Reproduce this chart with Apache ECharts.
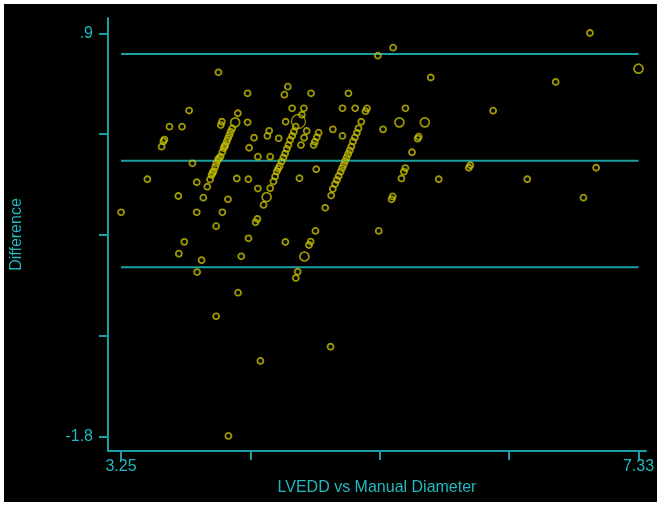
<!DOCTYPE html>
<html><head><meta charset="utf-8">
<script src="https://cdn.jsdelivr.net/npm/echarts@6/dist/echarts.min.js"></script>
<style>
html,body{margin:0;padding:0;background:#fff;width:661px;height:505px;overflow:hidden;}
#c{position:absolute;left:4px;top:4px;width:653px;height:498px;background:#000;}
</style></head><body><div id="c"></div>
<script>
// Mean diameter (x) and difference (y) for each case
const meanDiameter = [3.250,3.458,3.570,3.584,3.592,3.632,3.731,3.787,3.813,3.847,3.702,3.899,3.847,3.749,3.706,3.885,3.850,3.930,4.000,4.049,4.093,4.000,4.097,4.173,4.198,4.255,4.349,4.018,
4.045,4.037,4.114,4.105,4.094,4.084,4.072,4.059,4.049,4.035,4.014,4.001,3.993,3.980,3.964,3.952,4.126,4.067,4.023,3.972,
4.171,4.163,4.254,4.248,4.248,4.299,4.260,4.329,4.329,4.426,4.374,4.325,4.311,4.426,4.404,4.418,4.493,4.565,4.538,4.599,4.548,4.692,4.676,
4.627,4.613,4.599,4.583,4.570,4.557,4.544,4.531,4.516,4.501,4.489,4.478,4.465,4.452,
4.714,4.694,4.669,4.748,4.808,4.794,4.778,4.769,4.920,4.996,5.043,4.996,5.096,5.189,5.177,5.144,
5.122,5.110,5.094,5.079,5.066,5.053,5.041,5.029,5.017,5.006,4.994,4.982,4.966,4.952,4.937,4.920,4.907,
4.789,4.657,4.860,4.783,4.745,4.732,4.643,4.628,4.546,4.902,5.275,5.395,5.282,5.316,5.492,5.597,5.589,5.544,5.492,5.480,5.461,5.392,5.383,
5.692,5.755,6.004,5.992,6.184,6.453,6.677,6.896,6.947,6.996];
const difference = [-0.298,-0.077,0.141,0.176,0.189,0.275,0.275,0.383,0.030,-0.097,-0.189,-0.200,-0.298,-0.496,-0.575,-0.619,-0.698,-0.127,-0.391,-0.298,-0.211,-0.994,-1.795,-0.836,-0.593,-0.472,-1.293,0.639,
0.308,0.286,0.241,0.219,0.197,0.176,0.152,0.130,0.106,0.075,0.052,0.029,0.006,-0.022,-0.048,-0.079,0.263,0.142,0.065,-0.035,
0.365,-0.072,-0.077,0.498,0.304,0.201,0.134,0.074,-0.139,-0.137,-0.249,-0.343,-0.365,0.074,0.213,0.247,0.197,0.543,0.489,0.398,0.308,0.398,0.355,
0.275,0.241,0.213,0.186,0.152,0.126,0.095,0.069,0.042,0.012,-0.005,-0.025,-0.058,-0.092,
0.246,0.201,0.152,0.498,0.235,0.205,0.174,0.152,0.257,0.213,0.498,0.398,0.398,0.397,0.378,0.308,
0.264,0.234,0.203,0.176,0.142,0.116,0.092,0.069,0.045,0.020,-0.002,-0.026,-0.055,-0.082,-0.109,-0.142,-0.186,
-0.010,-0.070,-0.268,-0.423,-0.494,-0.517,-0.696,-0.738,-0.497,-1.198,0.750,0.804,-0.423,0.257,0.398,0.208,0.195,0.104,-0.002,-0.026,-0.072,-0.192,-0.211,
0.604,-0.077,0.017,0.000,0.382,-0.077,0.574,-0.200,0.902,0.000];
// Cases drawn with a larger circle (overlapping/weighted points)
const bigDiameter = [4.150,4.398,4.696,5.445,5.645,7.330];
const bigDifference = [0.304,-0.196,-0.594,0.304,0.304,0.663];
const hugeDiameter = [4.649];
const hugeDifference = [0.310];
// Limits of agreement
const upperLimit = 0.761;
const meanDiff = 0.047;
const lowerLimit = -0.666;
const lineRange = [3.25, 7.33];
// Axis ticks / labels
const xTicks = [3.25, 4.27, 5.29, 6.31, 7.33];
const xLabelValues = [3.25, 7.33];
const xLabelTexts = ['3.25', '7.33'];
const yTicks = [0.9, 0.225, -0.45, -1.125, -1.8];
const yLabelValues = [0.9, -1.8];
const yLabelTexts = ['.9', '-1.8'];

const pairs = (xs, ys) => xs.map((x, i) => [x, ys[i]]);
const teal = '#1c9ea2';
const tealText = '#20b8c0';
const yellow = '#c4be00';
const font = "'Liberation Sans Narrow', 'Liberation Sans', Arial, sans-serif";

function hline(v) {
  return {
    type: 'line', data: lineRange.map(x => [x, v]), symbol: 'none', silent: true,
    lineStyle: { color: teal, width: 2 }, z: 1, animation: false
  };
}
function lookup(vals, texts) {
  return v => { for (let i = 0; i < vals.length; i++) if (Math.abs(vals[i] - v) < 1e-6) return texts[i]; return ''; };
}
function ring(size, bw) {
  return { type: 'scatter', symbol: 'circle', symbolSize: size,
    itemStyle: { color: 'rgba(0,0,0,0)', borderColor: yellow, borderWidth: bw }, z: 3 };
}

const chart = echarts.init(document.getElementById('c'), null, { renderer: 'canvas' });
chart.setOption({
  backgroundColor: '#000',
  animation: false,
  grid: { left: 104, right: 11, top: 14, bottom: 51, containLabel: false, outerBoundsMode: 'none' },
  xAxis: {
    type: 'value', min: 3.1474, max: 7.389,
    name: 'LVEDD vs Manual Diameter', nameLocation: 'middle', nameGap: 24,
    nameTextStyle: { color: tealText, fontSize: 16, fontFamily: font },
    axisLine: { show: true, onZero: false, lineStyle: { color: teal, width: 2 } },
    axisTick: { show: true, length: 9, customValues: xTicks, lineStyle: { color: teal, width: 2 } },
    axisLabel: { show: true, customValues: xLabelValues, formatter: lookup(xLabelValues, xLabelTexts), color: tealText, fontSize: 16, fontFamily: font, margin: 8 },
    splitLine: { show: false }
  },
  yAxis: {
    type: 'value', min: -1.8957, max: 1.0024,
    name: 'Difference', nameLocation: 'middle', nameGap: 83, nameRotate: 90,
    nameTextStyle: { color: tealText, fontSize: 16, fontFamily: font },
    axisLine: { show: true, onZero: false, lineStyle: { color: teal, width: 2 } },
    axisTick: { show: true, length: 9, customValues: yTicks, lineStyle: { color: teal, width: 2 } },
    axisLabel: { show: true, customValues: yLabelValues, formatter: lookup(yLabelValues, yLabelTexts), color: tealText, fontSize: 16, fontFamily: font, margin: 15 },
    splitLine: { show: false }
  },
  series: [
    hline(upperLimit), hline(meanDiff), hline(lowerLimit),
    Object.assign(ring(6, 1.8), { data: pairs(meanDiameter, difference) }),
    Object.assign(ring(9, 1.7), { data: pairs(bigDiameter, bigDifference) }),
    Object.assign(ring(14, 1.2), { data: pairs(hugeDiameter, hugeDifference) })
  ]
});
</script></body></html>
